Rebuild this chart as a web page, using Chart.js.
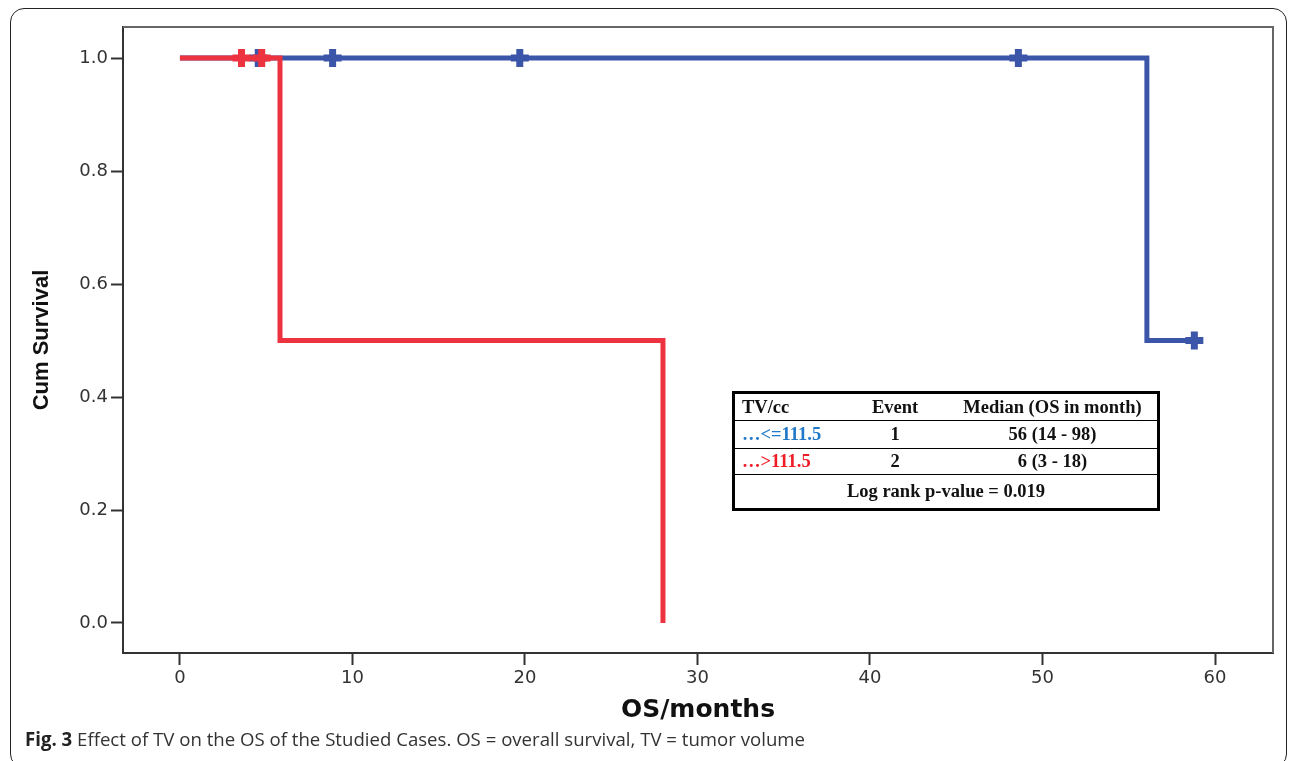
<!DOCTYPE html>
<html>
<head>
<meta charset="utf-8">
<script src="https://cdn.jsdelivr.net/npm/chart.js@4"></script>
<style>
  html, body { margin: 0; padding: 0; background: #fff; }
  #wrap { position: relative; width: 1290px; height: 761px; overflow: hidden; }
  #frame {
    position: absolute; left: 10px; top: 8px; width: 1277px; height: 760px;
    border: 1.5px solid #222; border-radius: 14px; box-sizing: border-box;
  }
  #myChart { position: absolute; left: 0; top: 0; }
  #summary {
    position: absolute; left: 732px; top: 391px; width: 421px;
    border-collapse: collapse; border: 3px solid #000;
    font-family: "Liberation Serif", "Times New Roman", serif; font-weight: bold; font-size: 18.5px; color: #111;
    table-layout: fixed;
  }
  #summary td { padding: 0; white-space: nowrap; border-bottom: 1.5px solid #000; }
  #summary td.c1 { text-align: left; padding-left: 7px; }
  #summary td.c2, #summary td.c3 { text-align: center; }
  #caption {
    position: absolute; left: 25px; top: 726px; white-space: nowrap;
    font-family: "Open Sans", sans-serif; font-size: 19px; color: #333;
    transform-origin: 0 0;
  }
  #caption b { color: #222; }
</style>
</head>
<body>
<div id="wrap">
  <div id="frame"></div>
  <canvas id="myChart" width="1290" height="761"></canvas>
  <table id="summary"><tbody id="summaryBody"></tbody></table>
  <div id="caption"><b>Fig. 3</b> Effect of TV on the OS of the Studied Cases. OS = overall survival, TV = tumor volume</div>
</div>
<script>
// Dados das curvas (Kaplan-Meier), tempo em meses
const redTimes = [0, 5.8, 28.0];
const redSurvival = [1.0, 0.5, 0.0];
const redCensorTimes = [3.57, 4.74];
const redCensorSurvival = [1.0, 1.0];

const blueTimes = [0, 56.05, 58.8];
const blueSurvival = [1.0, 0.5, 0.5];
const blueCensorTimes = [4.54, 8.85, 19.7, 48.6, 58.8];
const blueCensorSurvival = [1.0, 1.0, 1.0, 1.0, 0.5];

const xTicks = [0, 10, 20, 30, 40, 50, 60];
const yTicks = [0.0, 0.2, 0.4, 0.6, 0.8, 1.0];

// Tabela resumo
const groupLabels = ['\u2026<=111.5', '\u2026>111.5'];
const groupColors = ['#1f78c8', '#ee1c25'];
const groupEvents = ['1', '2'];
const groupMedians = ['56 (14 - 98)', '6 (3 - 18)'];
const logRankText = 'Log rank p-value = 0.019';

const BLUE = '#3b55a9';
const RED = '#ee3340';

function toPoints(xs, ys) {
  return xs.map((x, i) => ({ x: x, y: ys[i] }));
}

// Monta a tabela
const body = document.getElementById('summaryBody');
body.innerHTML = `
  <tr style="height:28px"><td class="c1" style="width:100px">TV/cc</td><td class="c2" style="width:106px">Event</td><td class="c3" style="width:209px">Median (OS in month)</td></tr>
  ${groupLabels.map((g, i) => `
  <tr style="height:${i === 0 ? 28 : 26}px"><td class="c1" style="color:${groupColors[i]}">${g}</td><td class="c2">${groupEvents[i]}</td><td class="c3">${groupMedians[i]}</td></tr>`).join('')}
  <tr style="height:35px"><td colspan="3" style="text-align:center;border-bottom:none">${logRankText}</td></tr>
`;

// Ajusta largura da legenda da figura
const caption = document.getElementById('caption');
const capW = caption.getBoundingClientRect().width;
caption.style.transform = `scaleX(${780 / capW})`;

// Borda da área do gráfico
const plotBorder = {
  id: 'plotBorder',
  afterDraw(chart) {
    const { ctx, chartArea: a } = chart;
    ctx.save();
    ctx.strokeStyle = '#666';
    ctx.lineWidth = 2;
    ctx.beginPath();
    ctx.moveTo(a.left, a.top);
    ctx.lineTo(a.right, a.top);
    ctx.lineTo(a.right, a.bottom);
    ctx.stroke();
    ctx.restore();
  }
};

const censorStyle = {
  showLine: false,
  pointStyle: 'cross',
  pointRadius: 9,
  pointBorderWidth: 7
};

const ctx = document.getElementById('myChart').getContext('2d');
new Chart(ctx, {
  type: 'line',
  data: {
    datasets: [
      { label: 'red', data: toPoints(redTimes, redSurvival), borderColor: RED, borderWidth: 5, stepped: true, pointRadius: 0, fill: false },
      Object.assign({ label: 'red censor', data: toPoints(redCensorTimes, redCensorSurvival), borderColor: RED, backgroundColor: RED }, censorStyle),
      { label: 'blue', data: toPoints(blueTimes, blueSurvival), borderColor: BLUE, borderWidth: 5, stepped: true, pointRadius: 0, fill: false },
      Object.assign({ label: 'blue censor', data: toPoints(blueCensorTimes, blueCensorSurvival), borderColor: BLUE, backgroundColor: BLUE }, censorStyle)
    ]
  },
  options: {
    responsive: false,
    animation: false,
    layout: { padding: { left: 0, right: 17, top: 27, bottom: 36 } },
    plugins: { legend: { display: false }, tooltip: { enabled: false } },
    scales: {
      x: {
        type: 'linear',
        min: -3.3,
        max: 63.36,
        afterFit: (s) => { s.height = 72; },
        afterBuildTicks: (s) => { s.ticks = xTicks.map(v => ({ value: v })); },
        grid: { drawOnChartArea: false, tickLength: 12, tickColor: '#333', tickWidth: 2 },
        border: { display: true, color: '#333', width: 2 },
        ticks: { color: '#333', padding: 3, font: { family: '"DejaVu Sans"', size: 18 } },
        title: { display: true, text: 'OS/months', color: '#111', padding: { top: 0, bottom: 0 }, font: { family: '"DejaVu Sans"', size: 25, weight: 'bold' } }
      },
      y: {
        min: -0.0531,
        max: 1.0549,
        afterFit: (s) => { s.width = 123; },
        afterBuildTicks: (s) => { s.ticks = yTicks.map(v => ({ value: v })); },
        grid: { drawOnChartArea: false, tickLength: 12, tickColor: '#333', tickWidth: 2 },
        border: { display: true, color: '#333', width: 2 },
        ticks: { color: '#333', padding: 3, font: { family: '"DejaVu Sans"', size: 18 }, callback: (v) => v.toFixed(1) },
        title: { display: true, text: 'Cum Survival', color: '#111', padding: { top: 29, bottom: 0 }, font: { family: '"Liberation Sans", Arial', size: 22, weight: 'bold' } }
      }
    }
  },
  plugins: [plotBorder]
});
</script>
</body>
</html>
